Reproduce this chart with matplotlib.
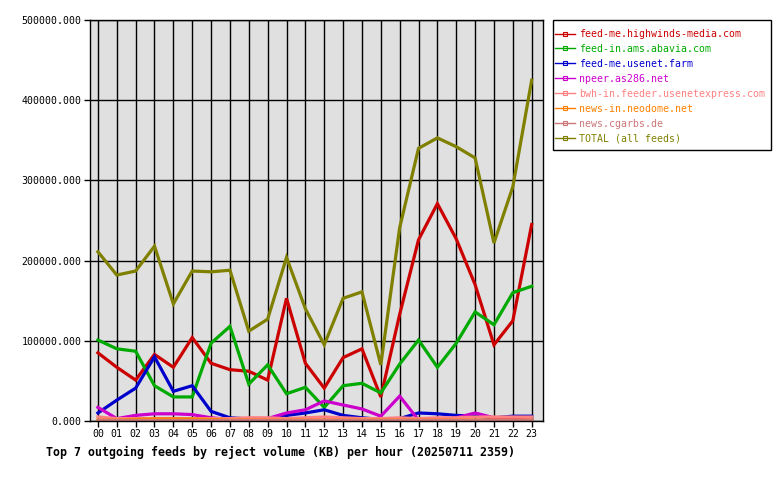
import numpy as np
import matplotlib
matplotlib.use("Agg")
import matplotlib.pyplot as plt
from matplotlib.lines import Line2D
from matplotlib.patches import Rectangle

hours = ["%02d" % h for h in range(24)]

highwinds = [85000, 67000, 51000, 83000, 67000, 104000, 72000, 64000, 62000, 51000,
             153000, 72000, 41000, 79000, 90000, 30000, 133000, 226000, 271000, 227000,
             170000, 95000, 125000, 245000]
abavia = [101000, 90000, 87000, 44000, 30000, 30000, 97000, 118000, 46000, 70000,
          34000, 42000, 17000, 44000, 47000, 35000, 71000, 101000, 67000, 97000,
          136000, 120000, 160000, 168000]
usenet_farm = [10000, 26000, 41000, 80000, 37000, 44000, 12000, 4000, 2500, 2000,
               7000, 10000, 14000, 7000, 4000, 2000, 3000, 10000, 9000, 7000,
               6000, 4000, 6000, 6000]
npeer = [17000, 3000, 7000, 9000, 9000, 8000, 4000, 2000, 2000, 3000,
         10000, 14000, 25000, 20000, 15000, 6000, 31000, 1000, 1000, 4000,
         10000, 4000, 2000, 1000]
bwh = [5000, 3000, 3000, 3000, 3000, 3000, 3000, 3000, 4000, 4000,
       3000, 4000, 5000, 4000, 3000, 3000, 4000, 3000, 4000, 4000,
       5000, 5000, 5000, 5000]
neodome = [1000, 1000, 2000, 2500, 2500, 2500, 2000, 1000, 1000, 1000,
           1000, 1000, 1000, 1000, 1000, 1000, 1000, 1000, 1000, 1000,
           1000, 1000, 1000, 1000]
cgarbs = [1500, 1500, 1500, 1500, 1500, 1500, 1500, 1500, 1500, 1500,
          1500, 1500, 1500, 1500, 1500, 1500, 1500, 1500, 1500, 1500,
          1500, 1500, 1500, 1500]
total = [211000, 182000, 187000, 218000, 146000, 187000, 186000, 188000, 112000, 127000,
         204000, 140000, 95000, 153000, 161000, 70000, 241000, 340000, 353000, 342000,
         328000, 222000, 292000, 425000]

names = ["feed-me.highwinds-media.com", "feed-in.ams.abavia.com", "feed-me.usenet.farm",
         "npeer.as286.net", "bwh-in.feeder.usenetexpress.com", "news-in.neodome.net",
         "news.cgarbs.de", "TOTAL (all feeds)"]
series = [highwinds, abavia, usenet_farm, npeer, bwh, neodome, cgarbs, total]
colors = ["#cc0000", "#00aa00", "#0000cc", "#cc00cc", "#ff8080", "#ff8000", "#cc7777", "#808000"]

plt.rcParams["font.family"] = "DejaVu Sans Mono"

W, H = 780, 480
fig = plt.figure(figsize=(7.8, 4.8), dpi=100)
ax = fig.add_axes([90 / W, 1 - 421 / H, (543 - 90) / W, (421 - 20) / H])
ax.set_facecolor("#e0e0e0")

x = np.arange(24)
for vals, c in zip(series, colors):
    ax.plot(x, vals, color=c, lw=2.3, solid_joinstyle="miter")

ax.set_xlim(-0.42, 23.6)
ax.set_ylim(0, 500000)
ax.set_xticks(x)
ax.set_xticklabels(hours)
ax.set_yticks(np.arange(0, 500001, 100000))
ax.yaxis.set_major_formatter(matplotlib.ticker.FormatStrFormatter("%.3f"))
ax.grid(True, color="black", lw=1)
ax.set_axisbelow(True)
ax.tick_params(labelsize=7.1, length=4, width=1, pad=2)
for s in ax.spines.values():
    s.set_color("black")
    s.set_linewidth(1)

# legend box drawn separately so the padding matches
fig.patches.append(Rectangle((553 / W, 1 - 150 / H), (771 - 553) / W, 130 / H,
                             transform=fig.transFigure, facecolor="white",
                             edgecolor="black", lw=1))

handles = [Line2D([0], [0], color=c, lw=1, marker="s", markersize=2.5,
                  markerfacecolor="none", markeredgewidth=0.8) for c in colors]
leg = fig.legend(handles, names, loc="upper left", bbox_to_anchor=(555 / W, 1 - 29 / H),
                 fontsize=7.1, frameon=False, handlelength=2.0,
                 handletextpad=0.4, labelspacing=0.5, borderpad=0, borderaxespad=0)
for t, c in zip(leg.get_texts(), colors):
    t.set_color(c)

fig.text(46 / W, 1 - 452 / H,
         "Top 7 outgoing feeds by reject volume (KB) per hour (20250711 2359)",
         fontsize=8.4, fontweight="bold", va="center", ha="left")

fig.savefig("out.png", dpi=100)
